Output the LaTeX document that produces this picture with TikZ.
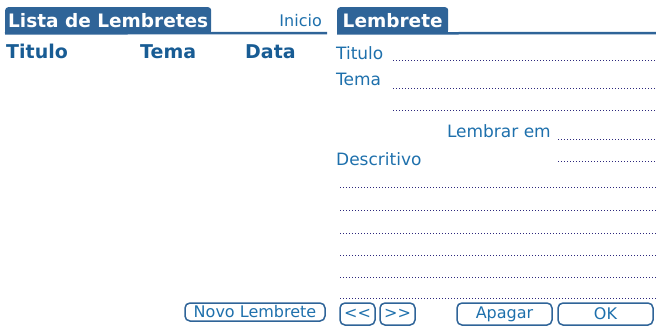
\documentclass[tikz,border=0pt]{standalone}
\usepackage{fontspec}
\setmainfont{DejaVu Sans}
\usetikzlibrary{positioning}
\definecolor{palmtab}{RGB}{47,100,152}
\definecolor{palmtext}{RGB}{30,112,172}
\definecolor{palmhead}{RGB}{24,92,148}
\definecolor{palmdot}{RGB}{45,40,125}
\tikzset{
tabtitle/.style={
    fill=palmtab, text=white,
    rounded corners=3pt,
    font=\fontsize{18.5}{18}\selectfont\bfseries,
    inner sep=0pt, anchor=north west
},
tabline/.style={draw=palmtab, line width=2.5pt},
colhead/.style={
    text=palmhead, inner sep=0pt, anchor=base west,
    font=\fontsize{19}{19}\selectfont\bfseries
},
formlabel/.style={
    text=palmtext, inner sep=0pt, anchor=base west,
    font=\fontsize{17}{17}\selectfont
},
dotline/.style={draw=palmdot, line width=1.5pt, dash pattern=on 1pt off 2pt},
palmbtn/.style={
    draw=palmtab, line width=1.5pt, rounded corners=5pt,
    text=palmtext, font=\fontsize{16}{16}\selectfont,
    inner sep=0pt
},
}

\begin{document}
\begin{tikzpicture}[x=1pt,y=-1pt]
\useasboundingbox (0,0) rectangle (656,327);
% list screen
\node[tabtitle, minimum width=206pt, minimum height=26pt] (listtab) at (5,7) {Lista de Lembretes};
\fill[palmtab] ([yshift=4pt]listtab.south west) rectangle (listtab.south east);
\draw[tabline] (listtab.south west) -- (327,33);
\node[formlabel, anchor=base east, font=\fontsize{16}{16}\selectfont] (inicio) at (322,26) {Inicio};
\node[colhead] (coltitulo) at (6,58) {Titulo};
\node[colhead] (coltema) at (140,58) {Tema};
\node[colhead] (coldata) at (245,58) {Data};
\node[palmbtn, minimum width=140pt, minimum height=18pt] (novo) at (255,312) {Novo Lembrete};

% detail screen
\node[tabtitle, minimum width=111pt, minimum height=26pt] (lembtab) at (337,7) {Lembrete};
\fill[palmtab] ([yshift=4pt]lembtab.south west) rectangle (lembtab.south east);
\draw[tabline] (lembtab.south west) -- (656,33);
\node[formlabel] (titulo) at (336,59) {Titulo};
\node[formlabel] (tema) at (336,85) {Tema};
\node[formlabel, anchor=base east] (lembrar) at (551,137) {Lembrar em};
\node[formlabel] (descr) at (336,165) {Descritivo};
\draw[dotline] (393,60.5) -- (656,60.5);
\draw[dotline] (393,88.5) -- (656,88.5);
\draw[dotline] (393,110.5) -- (656,110.5);
\draw[dotline] (558,139.5) -- (656,139.5);
\draw[dotline] (558,161.5) -- (656,161.5);
\foreach \y in {187.5,210.5,233.5,255.5,277.5,298.5}
    \draw[dotline] (340,\y) -- (656,\y);
\node[palmbtn, minimum width=35pt, minimum height=22pt] (prev) at (357.5,314) {<\kern0pt<};
\node[palmbtn, minimum width=35pt, minimum height=22pt] (next) at (397.5,314) {>\kern0pt>};
\node[palmbtn, minimum width=95pt, minimum height=22pt] (apagar) at (504.5,314) {Apagar};
\node[palmbtn, minimum width=95pt, minimum height=22pt] (ok) at (605.5,314) {OK};

\end{tikzpicture}
\end{document}
